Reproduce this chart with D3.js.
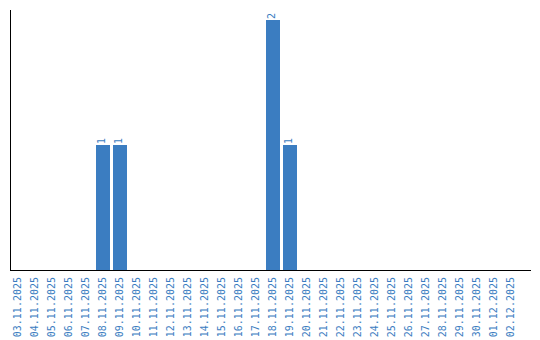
<!DOCTYPE html>
<html><head><meta charset="utf-8">
<script src="https://cdn.jsdelivr.net/npm/d3@7"></script>
<style>body{margin:0;background:#fff}svg{display:block}</style>
</head><body>
<svg id="c" width="540" height="340"></svg>
<script>
const categories = ["03.11.2025","04.11.2025","05.11.2025","06.11.2025","07.11.2025","08.11.2025","09.11.2025","10.11.2025","11.11.2025","12.11.2025","13.11.2025","14.11.2025","15.11.2025","16.11.2025","17.11.2025","18.11.2025","19.11.2025","20.11.2025","21.11.2025","22.11.2025","23.11.2025","24.11.2025","25.11.2025","26.11.2025","27.11.2025","28.11.2025","29.11.2025","30.11.2025","01.12.2025","02.12.2025"];
const values = [0,0,0,0,0,1,1,0,0,0,0,0,0,0,0,2,1,0,0,0,0,0,0,0,0,0,0,0,0,0];
const color = "#3b7dc1";
const font = "DejaVu Sans Mono";
const svg = d3.select("#c");
const p = 3/17;
const x = d3.scaleBand().domain(categories).range([11, 521]).paddingInner(p).paddingOuter(p/2).align(0);
const y = d3.scaleLinear().domain([0, 2]).range([270, 20]);
const data = categories.map((c,i)=>({c, v: values[i]}));
svg.selectAll("rect.bar").data(data.filter(d=>d.v>0)).join("rect")
  .attr("x", d=>x(d.c)).attr("width", x.bandwidth())
  .attr("y", d=>y(d.v)).attr("height", d=>y(0)-y(d.v)).attr("fill", color);
svg.selectAll("text.val").data(data.filter(d=>d.v>0)).join("text")
  .attr("transform", d=>`translate(${x(d.c)+x.bandwidth()/2+1.5},${y(d.v)-1}) rotate(-90)`)
  .attr("font-family",font).attr("font-size",10).attr("fill",color)
  .attr("text-anchor","start").text(d=>d.v);
const xa = svg.append("g").attr("transform","translate(0,270)")
  .call(d3.axisBottom(x).tickSize(0).tickPadding(0));
xa.select(".domain").remove();
xa.selectAll("text").attr("font-family",font).attr("font-size",10).attr("fill",color)
  .attr("text-anchor","end").attr("dy",null)
  .attr("transform","translate(2.5,7) rotate(-90)").attr("y",0).attr("x",0);
svg.append("line").attr("x1",10.5).attr("x2",10.5).attr("y1",10).attr("y2",270).attr("stroke","#000");
svg.append("line").attr("x1",10).attr("x2",531).attr("y1",270.5).attr("y2",270.5).attr("stroke","#000");
</script>
</body></html>
